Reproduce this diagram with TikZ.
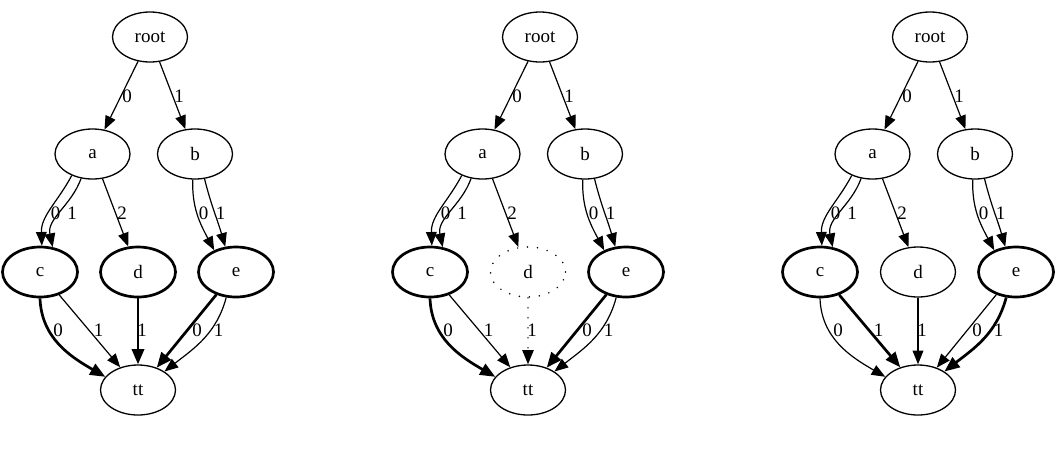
\documentclass[tikz,border=0pt]{standalone}
\usepackage{fontspec}
\setmainfont{Liberation Serif}
\usetikzlibrary{shapes.geometric,arrows.meta}
\tikzset{
  gnode/.style={ellipse, draw, line width=1.3pt, minimum width=75pt, minimum height=50pt, inner sep=0pt, font=\fontsize{19}{22}\selectfont},
  boldnode/.style={line width=2.7pt},
  arr/.style={line width=1.2pt, -{Triangle[length=12.5pt 1,width=9.5pt 1]}},
  heavy/.style={line width=2.7pt},
  dotsty/.style={dash pattern=on 0pt off 10pt, line cap=round, line width=1.7pt},
  lbl/.style={inner sep=0pt, font=\fontsize{19}{22}\selectfont},
  cnode/.style={}, dnode/.style={}, enode/.style={},
  ctta/.style={}, cttb/.style={}, dttb/.style={}, etta/.style={}, ettb/.style={}
}
\newcommand\bddgraph{%
  \node[gnode] (root) at (150,-37) {root};
  \node[gnode] (a) at (92.5,-154) {a};
  \node[gnode] (b) at (195,-154) {b};
  \node[gnode,cnode] (c) at (40,-272) {c};
  \node[gnode,dnode] (d) at (138,-272) {d};
  \node[gnode,enode] (e) at (236,-272) {e};
  \node[gnode] (tt) at (138,-390) {tt};
  \draw[arr] (root) -- (a);
  \draw[arr] (root) -- (b);
  \draw[arr] (a.226) to[out=-118,in=92] (c.86);
  \draw[arr] (a.245) to[out=-110,in=102] (c.63);
  \draw[arr] (a.292) -- (d.111);
  \draw[arr] (b.265) to[out=-92,in=118] (e.135);
  \draw[arr] (b.291) to[out=-76,in=106] (e.113);
  \draw[arr,ctta] (c.270) to[out=-88,in=150] (tt.158);
  \draw[arr,cttb] (c.310) -- (tt.128);
  \draw[arr,dttb] (d) -- (tt);
  \draw[arr,etta] (e.229) -- (tt.50);
  \draw[arr,ettb] (e.249) to[out=-105,in=38] (tt.35);
  \node[lbl] (lr0) at (127,-96) {0};
  \node[lbl] (lr1) at (179,-96) {1};
  \node[lbl] (la0) at (55.5,-213) {0};
  \node[lbl] (la1) at (72,-213) {1};
  \node[lbl] (la2) at (122,-213) {2};
  \node[lbl] (lb0) at (203.5,-213) {0};
  \node[lbl] (lb1) at (220.5,-213) {1};
  \node[lbl] (lc0) at (58,-330) {0};
  \node[lbl] (lc1) at (98.5,-330) {1};
  \node[lbl] (ld1) at (142,-330) {1};
  \node[lbl] (le0) at (197,-330) {0};
  \node[lbl] (le1) at (218.5,-330) {1};
}
\begin{document}
\begin{tikzpicture}[x=1pt,y=1pt]
  \useasboundingbox (0,0) rectangle (1057,-459);
  \begin{scope}[name prefix=g1-, cnode/.style={boldnode}, dnode/.style={boldnode}, enode/.style={boldnode},
      ctta/.style={heavy}, dttb/.style={heavy}, etta/.style={heavy}]
    \bddgraph
  \end{scope}
  \begin{scope}[xshift=390pt, name prefix=g2-, cnode/.style={boldnode}, dnode/.style={dotsty}, enode/.style={boldnode},
      ctta/.style={heavy}, dttb/.style={dotsty}, etta/.style={heavy}]
    \bddgraph
  \end{scope}
  \begin{scope}[xshift=780pt, name prefix=g3-, cnode/.style={boldnode}, enode/.style={boldnode},
      cttb/.style={heavy}, ettb/.style={heavy}]
    \bddgraph
  \end{scope}
\end{tikzpicture}
\end{document}
